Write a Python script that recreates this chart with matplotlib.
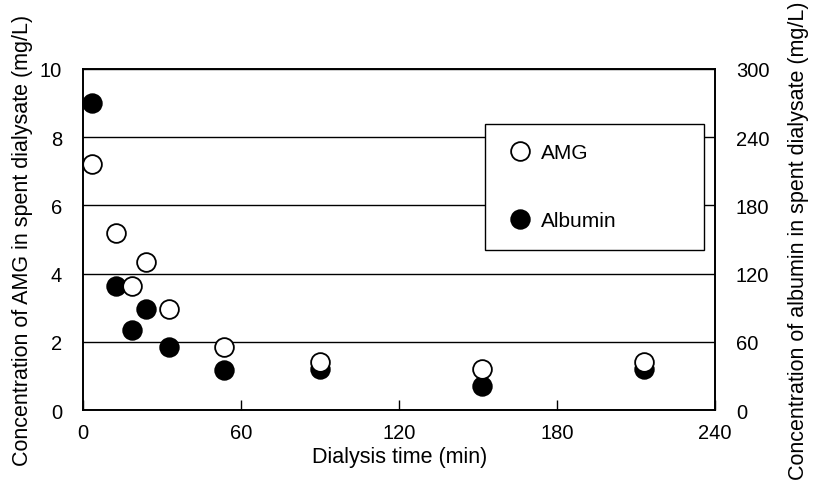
import numpy as np
import matplotlib
matplotlib.use('Agg')
import matplotlib.pyplot as plt
from matplotlib.lines import Line2D

#%% 数据
time_min = [3.5, 12.5, 18.5, 24, 32.5, 53.5, 90, 151.5, 213]
amg = [7.2, 5.2, 3.65, 4.33, 2.95, 1.85, 1.40, 1.20, 1.40]        # mg/L, left axis
albumin = [270, 109, 70, 89, 55, 35, 36, 21, 36]                  # mg/L, right axis

x_ticks = [0, 60, 120, 180, 240]
amg_ticks = [0, 2, 4, 6, 8, 10]
alb_ticks = [0, 60, 120, 180, 240, 300]

#%% 作图
plt.rcParams['font.family'] = ['Liberation Sans', 'DejaVu Sans']

fig = plt.figure(figsize=(8.16, 4.81), dpi=100)
ax = fig.add_axes([0.1017, 0.1455, 0.7745, 0.709])
ax2 = ax.twinx()

# AMG axis drawn on top of the albumin axis
ax.set_zorder(ax2.get_zorder() + 1)
ax.patch.set_visible(False)

ms = 13.5
ax2.plot(time_min, albumin, 'o', ms=ms, mfc='black', mec='black', mew=1.2, clip_on=False)
ax.plot(time_min, amg, 'o', ms=ms, mfc='white', mec='black', mew=1.3, clip_on=False)

ax.set_xlim(0, 240)
ax.set_ylim(0, 10)
ax2.set_ylim(0, 300)
ax.set_xticks(x_ticks)
ax.set_yticks(amg_ticks)
ax2.set_yticks(alb_ticks)

ax.yaxis.grid(True, color='black', lw=1.0)
ax.set_axisbelow(True)

ax.tick_params(axis='x', direction='in', length=7, width=1, labelsize=14.5, pad=9)
ax.tick_params(axis='y', length=0, labelsize=14.5, pad=15)
ax2.tick_params(axis='y', length=0, labelsize=14.5, pad=15)

for a in (ax, ax2):
    for s in a.spines.values():
        s.set_linewidth(1.2)
        s.set_color('black')

label_fs = 15.5
ax.set_xlabel('Dialysis time (min)', fontsize=label_fs)
ax.set_ylabel('Concentration of AMG in spent dialysate (mg/L)', fontsize=label_fs)
ax2.set_ylabel('Concentration of albumin in spent dialysate (mg/L)', fontsize=label_fs,
               rotation=90)
ax.xaxis.set_label_coords(0.5008, -0.105)
ax.yaxis.set_label_coords(-0.079, 0.5)
ax2.yaxis.set_label_coords(1.1155, 0.5)

handles = [Line2D([], [], ls='none', marker='o', ms=ms, mfc='white', mec='black', mew=1.3),
           Line2D([], [], ls='none', marker='o', ms=ms, mfc='black', mec='black', mew=1.2)]
leg = ax.legend(handles, ['AMG', 'Albumin'], loc='upper left',
                bbox_to_anchor=(0.636, 0.484, 0.347, 0.355), mode='expand',
                borderaxespad=0, fontsize=15, fancybox=False, frameon=True,
                framealpha=1, edgecolor='black', borderpad=0.93,
                handlelength=1.5, handletextpad=0.25, labelspacing=2.35,
                numpoints=1)
leg.get_frame().set_linewidth(1.0)

plt.savefig('out.png', dpi=100)
